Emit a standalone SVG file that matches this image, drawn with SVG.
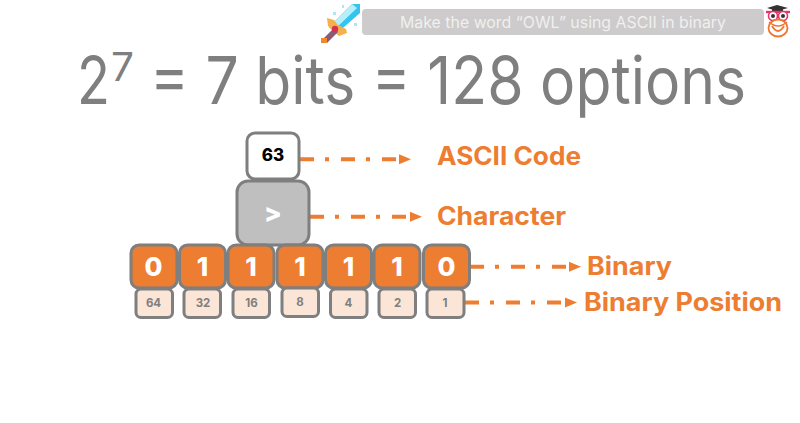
<svg xmlns="http://www.w3.org/2000/svg" width="800" height="423" viewBox="0 0 800 423">
<style>
text{font-family:"Inter","Open Sans","Liberation Sans",sans-serif;text-anchor:middle}
.box{stroke:#7f7f7f;stroke-width:3}
.bit rect{fill:#ed7d31}
.bit text{fill:#fff;font-size:26px;font-weight:800}
.pos rect{fill:#fbe5d6}
.pos text{fill:#7f7f7f;font-size:11.500px;font-weight:700}
.lbl{fill:#ed7d31;font-size:25px;font-weight:700;text-anchor:start}
.ttl{fill:#7f7f7f;text-anchor:start;font-weight:400}
.arrow{fill:none;stroke:#ed7d31;stroke-width:4;stroke-dasharray:14 11 4 12;marker-end:url(#tri)}
</style>
<defs>
<marker id="tri" markerUnits="userSpaceOnUse" markerWidth="12" markerHeight="12" refX="0" refY="6" orient="auto"><path d="M0 1 L12 6 L0 11 Z" fill="#ed7d31"/></marker>
</defs>
<rect width="800" height="423" fill="#fff"/>
<g id="banner">
<rect x="362" y="9" width="402" height="26" rx="4" fill="#cdcbcb"/>
<text x="563" y="28" font-size="16" fill="#f0f0f0" textLength="326" lengthAdjust="spacingAndGlyphs">Make the word “OWL” using ASCII in binary</text>
</g>
<g id="sword">
<path d="M352 4 L360 4 L360 13 L336 34 L329 27 Z" fill="#35c4ee"/>
<path d="M352 4 L357 8 L333 31 L329 27 Z" fill="#b5effb"/>
<path d="M327 18 L334 20 L338 25 L346 29 L347 33 L339 36 L333 31 L328 26 Z" fill="#f5b04c"/>
<path d="M334 28 L338 32 L327 43 L323 39 Z" fill="#8a5a78"/>
<circle cx="335" cy="29" r="3.200" fill="#d9304f"/>
<rect x="321" y="38" width="6" height="5" fill="#f08a2c"/>
<path d="M333 12h3v3h-3zM354 23h3v3h-3zM342 5h2v3h-2z" fill="#a8e8f8"/>
</g>
<g id="owl">
<path d="M767 8 L777 5 L788 8 L777 11 Z" fill="#333"/>
<rect x="772" y="9" width="11" height="3" fill="#333"/>
<path d="M766 12 H790" stroke="#e8336d" stroke-width="2.400"/>
<circle cx="773" cy="16" r="4.500" fill="#fff" stroke="#e8336d" stroke-width="1.600"/>
<circle cx="783" cy="16" r="4.500" fill="#fff" stroke="#e8336d" stroke-width="1.600"/>
<circle cx="773" cy="16" r="2" fill="#333"/>
<circle cx="783" cy="16" r="2" fill="#333"/>
<ellipse cx="778" cy="28" rx="9.500" ry="8.500" fill="#fff" stroke="#f0762f" stroke-width="1.800"/>
<path d="M772 26 Q778 36 784 26" fill="none" stroke="#f0762f" stroke-width="1.800"/>
<path d="M769 22 Q778 30 787 22" fill="none" stroke="#f0762f" stroke-width="1.600"/>
</g>
<g id="title">
<text class="ttl" x="77" y="104" font-size="66" textLength="33" lengthAdjust="spacingAndGlyphs">2</text>
<text class="ttl" x="111" y="81" font-size="40" textLength="23" lengthAdjust="spacingAndGlyphs">7</text>
<text class="ttl" x="150" y="104" font-size="66" textLength="596" lengthAdjust="spacingAndGlyphs">= 7 bits = 128 options</text>
</g>
<g id="connectors">
<path class="arrow" d="M300 159.300H399"/>
<path class="arrow" d="M310 216.700H410"/>
<path class="arrow" d="M470 266.700H569"/>
<path class="arrow" d="M465 302.500H565"/>
</g>
<g id="code"><rect class="box" x="247" y="133" width="52" height="46" rx="8" fill="#fff"/><text x="273" y="161" font-size="17" font-weight="800" fill="#000">63</text></g>
<g id="char"><rect class="box" x="237" y="181" width="72" height="64" rx="11" fill="#bfbfbf"/><text x="273" y="222" font-size="26" font-weight="800" fill="#fff">&gt;</text></g>
<g id="bit64" class="bit"><rect class="box" x="131" y="245" width="46" height="43" rx="8"/><text x="153.500" y="276">0</text></g>
<g id="bit32" class="bit"><rect class="box" x="179.500" y="245" width="46" height="43" rx="8"/><text x="202.500" y="276">1</text></g>
<g id="bit16" class="bit"><rect class="box" x="228" y="245" width="46" height="43" rx="8"/><text x="251" y="276">1</text></g>
<g id="bit8" class="bit"><rect class="box" x="277" y="245" width="46" height="43" rx="8"/><text x="300" y="276">1</text></g>
<g id="bit4" class="bit"><rect class="box" x="325.500" y="245" width="46" height="43" rx="8"/><text x="348.500" y="276">1</text></g>
<g id="bit2" class="bit"><rect class="box" x="374" y="245" width="46" height="43" rx="8"/><text x="397" y="276">1</text></g>
<g id="bit1" class="bit"><rect class="box" x="423.500" y="245" width="46" height="43" rx="8"/><text x="446.500" y="276">0</text></g>
<g id="pos64" class="pos"><rect class="box" x="136" y="289" width="36.500" height="28.500" rx="5"/><text x="153.500" y="307">64</text></g>
<g id="pos32" class="pos"><rect class="box" x="184" y="289" width="36.500" height="28.500" rx="5"/><text x="203" y="307">32</text></g>
<g id="pos16" class="pos"><rect class="box" x="233" y="289" width="36.500" height="28.500" rx="5"/><text x="251.500" y="307">16</text></g>
<g id="pos8" class="pos"><rect class="box" x="282" y="288" width="36.500" height="28.500" rx="5"/><text x="300" y="306">8</text></g>
<g id="pos4" class="pos"><rect class="box" x="330.500" y="289" width="36.500" height="28.500" rx="5"/><text x="348.500" y="307">4</text></g>
<g id="pos2" class="pos"><rect class="box" x="379" y="289" width="36.500" height="28.500" rx="5"/><text x="397.500" y="307">2</text></g>
<g id="pos1" class="pos"><rect class="box" x="427" y="289" width="37" height="28.500" rx="5"/><text x="445" y="307">1</text></g>
<g id="labels">
<text class="lbl" x="437" y="165" textLength="144" lengthAdjust="spacingAndGlyphs">ASCII Code</text>
<text class="lbl" x="437" y="225" textLength="129" lengthAdjust="spacingAndGlyphs">Character</text>
<text class="lbl" x="587" y="275" textLength="85" lengthAdjust="spacingAndGlyphs">Binary</text>
<text class="lbl" x="584" y="311" textLength="198" lengthAdjust="spacingAndGlyphs">Binary Position</text>
</g>
</svg>
